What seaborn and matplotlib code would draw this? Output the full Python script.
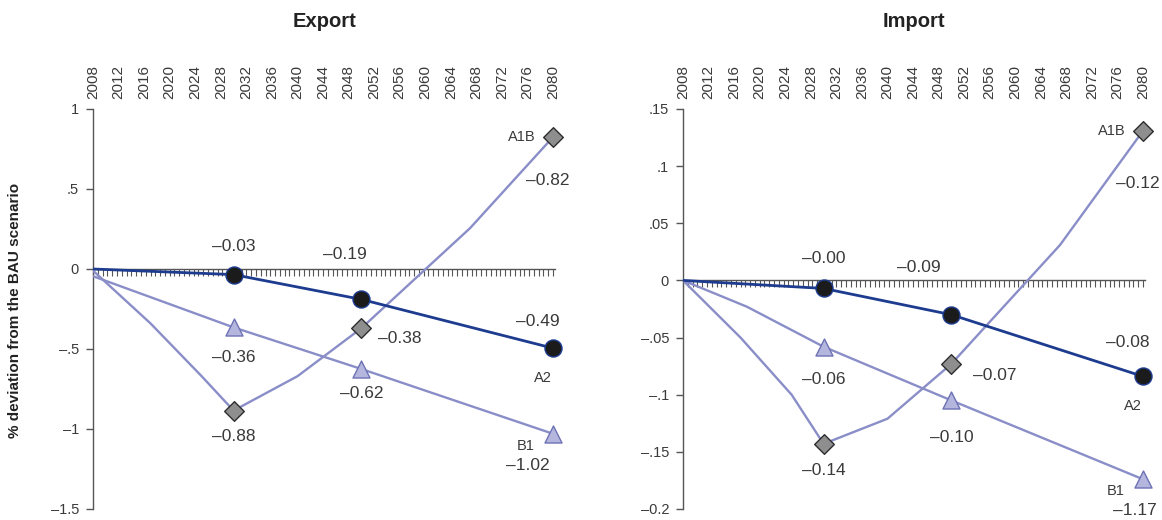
"""Export / Import deviation from BAU, SRES scenarios."""
import matplotlib
matplotlib.use("Agg")
import matplotlib.pyplot as plt
import numpy as np
import pandas as pd
import seaborn as sns

# --- data ---
marker_years = [2030, 2050, 2080]

exp_a2_years = [2008, 2030, 2050, 2080]
exp_a2_vals = [0.0, -0.035, -0.19, -0.495]
exp_b1_years = [2008, 2030, 2050, 2080]
exp_b1_vals = [-0.045, -0.365, -0.625, -1.03]
exp_a1b_years = [2008, 2017, 2025, 2030, 2040, 2050, 2067, 2080]
exp_a1b_vals = [-0.01, -0.34, -0.67, -0.885, -0.67, -0.37, 0.255, 0.825]

imp_a2_years = [2008, 2030, 2050, 2080]
imp_a2_vals = [0.0, -0.007, -0.03, -0.084]
imp_b1_years = [2008, 2018, 2030, 2050, 2080]
imp_b1_vals = [0.0, -0.023, -0.058, -0.105, -0.174]
imp_a1b_years = [2008, 2017, 2025, 2030, 2040, 2050, 2067, 2080]
imp_a1b_vals = [0.0, -0.05, -0.10, -0.143, -0.121, -0.073, 0.031, 0.131]

# printed value labels (as in the source, signs included)
exp_a2_labels = ["–0.03", "–0.19", "–0.49"]
exp_b1_labels = ["–0.36", "–0.62", "–1.02"]
exp_a1b_labels = ["–0.88", "–0.38", "–0.82"]
imp_a2_labels = ["–0.00", "–0.09", "–0.08"]
imp_b1_labels = ["–0.06", "–0.10", "–1.17"]
imp_a1b_labels = ["–0.14", "–0.07", "–0.12"]

x_tick_labels = list(range(2008, 2081, 4))
exp_yticks = [1, 0.5, 0, -0.5, -1, -1.5]
exp_yticklabels = ["1", ".5", "0", "–.5", "–1", "–1.5"]
imp_yticks = [0.15, 0.1, 0.05, 0, -0.05, -0.1, -0.15, -0.2]
imp_yticklabels = [".15", ".1", ".05", "0", "–.05", "–.1", "–.15", "–0.2"]

# --- style ---
sns.set_style("white")
plt.rcParams["font.family"] = ["Liberation Sans", "DejaVu Sans"]
TXT = "#3a3a3a"
AXC = "#555555"
NAVY = "#1d3c8f"
LAV = "#8a8ec8"

STYLES = {
    "A2": dict(line=NAVY, lw=2.0, marker="o", s=150, face="#1b1b1b", edge=NAVY),
    "B1": dict(line=LAV, lw=1.7, marker="^", s=150, face="#b4b6de", edge="#6d72b5"),
    "A1B": dict(line=LAV, lw=1.7, marker="D", s=100, face="#8e8e8e", edge="#2e2e2e"),
}

# label offsets in pixels (dx, dy) for each marker, plus scenario name tags
EXP_OFFSETS = {
    "A2": [(0, 28), (-17, 45), (-15, 27)],
    "B1": [(0, -30), (0, -25), (-25, -32)],
    "A1B": [(0, -26), (38, -10), (-5, -44)],
}
IMP_OFFSETS = {
    "A2": [(0, 30), (-33, 47), (-15, 34)],
    "B1": [(0, -33), (0, -37), (-8, -31)],
    "A1B": [(0, -27), (43, -12), (-5, -53)],
}
NAME_OFFSETS = {"A2": (-10, -30), "B1": (-27, -12), "A1B": (-31, 0)}


def draw_panel(ax, title, series, offsets, yticks, yticklabels, ylim):
    for name in ["B1", "A1B", "A2"]:
        years, vals, labels = series[name]
        st = STYLES[name]
        df = pd.DataFrame({"year": years, "value": vals})
        sns.lineplot(data=df, x="year", y="value", ax=ax, color=st["line"],
                     linewidth=st["lw"], sort=False, estimator=None, zorder=3)
        pts = df[df["year"].isin(marker_years)]
        sns.scatterplot(data=pts, x="year", y="value", ax=ax, marker=st["marker"],
                        s=st["s"], color=st["face"], edgecolor=st["edge"],
                        linewidth=1.0, zorder=4, clip_on=False)
        for (x, y), lab, (dx, dy) in zip(pts[["year", "value"]].values, labels, offsets[name]):
            ax.annotate(lab, (x, y), xytext=(dx * 0.72, dy * 0.72), textcoords="offset points",
                        ha="center", va="center", fontsize=12.5, color=TXT)
        x_end, y_end = pts[["year", "value"]].values[-1]
        dx, dy = NAME_OFFSETS[name]
        ax.annotate(name, (x_end, y_end), xytext=(dx * 0.72, dy * 0.72), textcoords="offset points",
                    ha="center", va="center", fontsize=10.5, color=TXT)

    ax.set_xlim(2008, 2080.3)
    ax.set_ylim(*ylim)
    ax.set_xlabel("")
    ax.set_ylabel("")
    for side in ["top", "right"]:
        ax.spines[side].set_visible(False)
    ax.spines["bottom"].set_position(("data", 0))
    ax.spines["bottom"].set_color(AXC)
    ax.spines["left"].set_color(AXC)
    ax.spines["bottom"].set_linewidth(1.0)
    ax.spines["left"].set_linewidth(1.0)
    ax.set_xticks(np.arange(2008, 2080.01, 0.75))
    ax.tick_params(axis="x", bottom=True, direction="out", length=5, width=0.8,
                   color=AXC, labelbottom=False)
    ax.set_yticks(yticks)
    ax.set_yticklabels(yticklabels)
    ax.tick_params(axis="y", left=True, direction="out", length=5, width=1.0,
                   color=AXC, labelsize=10.5, labelcolor=TXT, pad=5)

    sec = ax.secondary_xaxis("top")
    sec.set_xticks(x_tick_labels)
    sec.set_xticklabels([str(v) for v in x_tick_labels], rotation=90)
    sec.tick_params(length=0, pad=7, labelsize=11, labelcolor=TXT)
    sec.spines["top"].set_visible(False)

    ax.text(0.5, 1.2175, title, transform=ax.transAxes, ha="center", va="center",
            fontsize=14.5, fontweight="bold", color="#222222")


fig = plt.figure(figsize=(11.62, 5.2), dpi=100)
ax1 = fig.add_axes([93 / 1162, 11 / 520, 462 / 1162, 400 / 520])
ax2 = fig.add_axes([683 / 1162, 11 / 520, 462 / 1162, 400 / 520])

draw_panel(ax1, "Export",
           {"A2": (exp_a2_years, exp_a2_vals, exp_a2_labels),
            "B1": (exp_b1_years, exp_b1_vals, exp_b1_labels),
            "A1B": (exp_a1b_years, exp_a1b_vals, exp_a1b_labels)},
           EXP_OFFSETS, exp_yticks, exp_yticklabels, (-1.5, 1))
draw_panel(ax2, "Import",
           {"A2": (imp_a2_years, imp_a2_vals, imp_a2_labels),
            "B1": (imp_b1_years, imp_b1_vals, imp_b1_labels),
            "A1B": (imp_a1b_years, imp_a1b_vals, imp_a1b_labels)},
           IMP_OFFSETS, imp_yticks, imp_yticklabels, (-0.2, 0.15))

fig.text(15 / 1162, 1 - 310 / 520, "% deviation from the BAU scenario", rotation=90,
         ha="center", va="center", fontsize=11, fontweight="bold", color="#222222")

fig.savefig("out.png", dpi=100)
